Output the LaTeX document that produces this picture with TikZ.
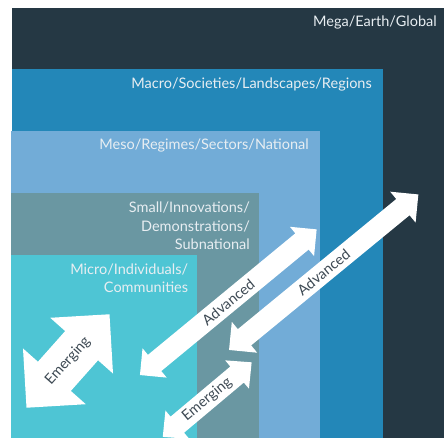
\documentclass[tikz,border=0pt]{standalone}
\usepackage{fontspec}
\setmainfont{Lato}
\definecolor{megac}{HTML}{253844}
\definecolor{macroc}{HTML}{2387B8}
\definecolor{mesoc}{HTML}{72ACD7}
\definecolor{smallc}{HTML}{6A97A2}
\definecolor{microc}{HTML}{4EC5D4}
\definecolor{lblc}{HTML}{E8EEF2}
\definecolor{arrtxt}{HTML}{3E4A54}
\newcommand{\dblarrow}[9]{%
  \begin{scope}[shift={(#2,#3)}, rotate=#4]
    \fill[white] ({-#5/2},0) -- ({-#5/2+#8},{#7/2}) -- ({-#5/2+#8},{#6/2}) --
      ({#5/2-#8},{#6/2}) -- ({#5/2-#8},{#7/2}) -- ({#5/2},0) --
      ({#5/2-#8},{-#7/2}) -- ({#5/2-#8},{-#6/2}) -- ({-#5/2+#8},{-#6/2}) --
      ({-#5/2+#8},{-#7/2}) -- cycle;
  \end{scope}
  \node[arrlbl, rotate=#4] (#1) at (#2,#3) {#9};
}
\begin{document}
\begin{tikzpicture}[x=1pt,y=-1pt,
  lvl/.style={text=lblc, font=\fontsize{14.5}{18.5}\selectfont, inner sep=0pt, align=right, anchor=base east},
  arrlbl/.style={text=arrtxt, font=\fontsize{14.5}{18}\selectfont, inner sep=0pt}]
\useasboundingbox (0,0) rectangle (444,438);
\fill[white] (0,0) rectangle (444,438);
\fill[megac] (12,8) rectangle (444,438);
\fill[macroc] (12,69) rectangle (383,438);
\fill[mesoc] (11,131) rectangle (320,438);
\fill[smallc] (11,193) rectangle (259,438);
\fill[microc] (11,255) rectangle (197,438);
\node[lvl] (mega) at (437,26.7) {Mega/Earth/Global};
\node[lvl] (macro) at (372,88.3) {Macro/Societies/Landscapes/Regions};
\node[lvl] (meso) at (309,150) {Meso/Regimes/Sectors/National};
\node[lvl] (small) at (250,250) {Small/Innovations/\\Demonstrations/\\Subnational};
\node[lvl] (micro) at (188.3,292.7) {Micro/Individuals/\\Communities};
\dblarrow{em1}{68}{361}{48.4}{125}{44}{84}{42}{Emerging}
\dblarrow{adv1}{228.3}{302.2}{39.5}{229}{21}{38}{19}{Advanced}
\dblarrow{adv2}{323.7}{272.2}{39.4}{245}{21}{40}{20}{Advanced}
\dblarrow{em2}{207.2}{399.6}{40}{116}{21}{37}{19}{Emerging}
\end{tikzpicture}
\end{document}
